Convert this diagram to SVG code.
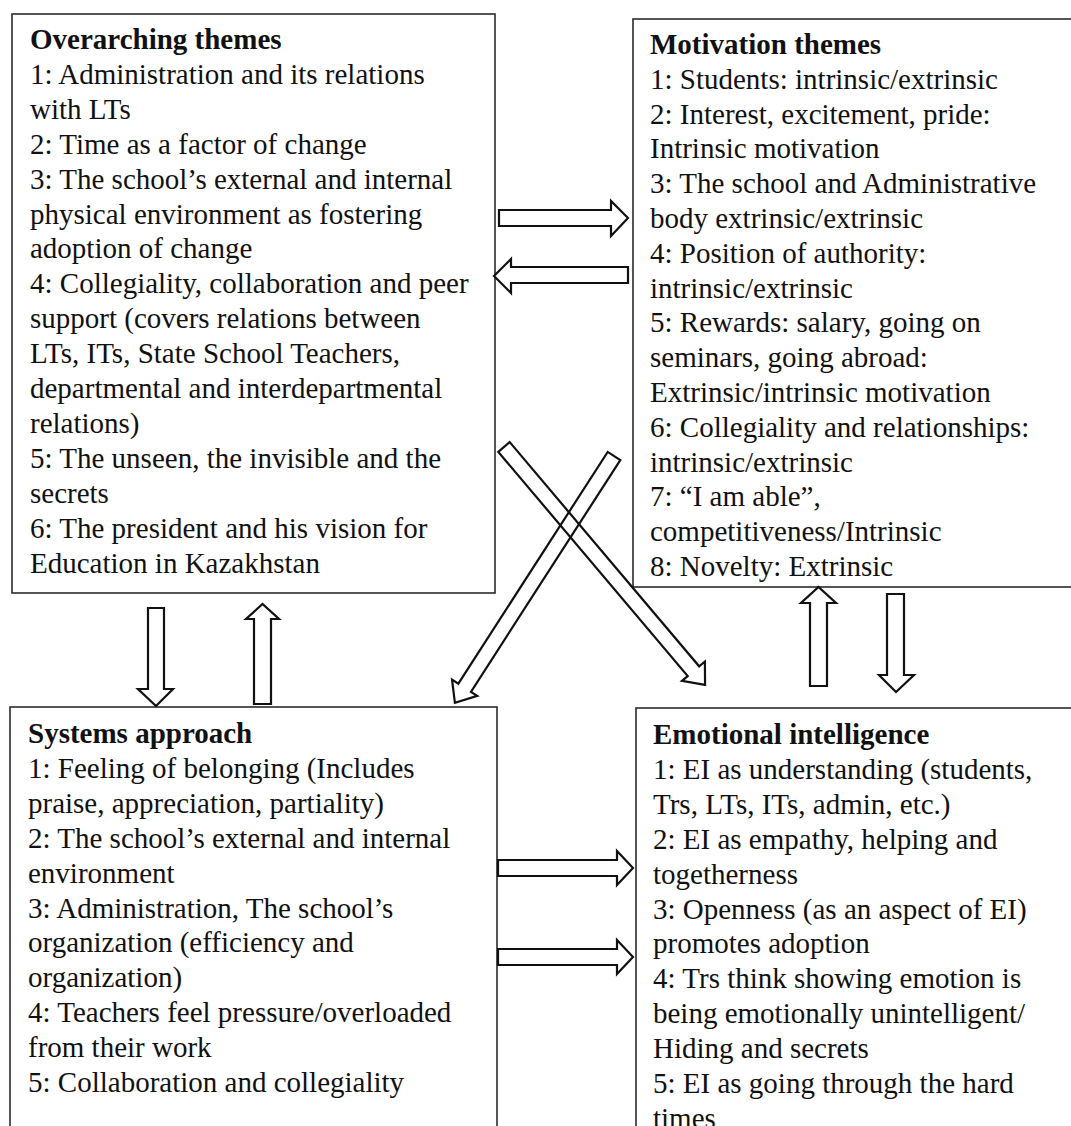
<svg xmlns="http://www.w3.org/2000/svg" width="1071" height="1126" viewBox="0 0 1071 1126">
  <style>
    .box { fill: #ffffff; stroke: #2b2b2b; stroke-width: 1.6; }
    .txt { font-family: "Liberation Serif", "Times New Roman", serif; font-size: 29px; fill: #111111; }
    .ttl { font-weight: bold; }
    .arrow { fill: #ffffff; stroke: #111111; stroke-width: 2.2; stroke-linejoin: miter; }
    .cross { fill: none; stroke: #111111; stroke-width: 2.2; stroke-linejoin: miter; }
  </style>
  <rect width="1071" height="1126" fill="#ffffff"/>

  <!-- Overarching themes -->
  <g id="overarching">
    <rect class="box" x="12" y="14" width="483" height="579"/>
    <text class="txt" x="30">
      <tspan class="ttl" x="30" y="49">Overarching themes</tspan>
      <tspan x="30" y="84">1: Administration and its relations</tspan>
      <tspan x="30" y="118.8">with LTs</tspan>
      <tspan x="30" y="153.7">2: Time as a factor of change</tspan>
      <tspan x="30" y="188.6">3: The school’s external and internal</tspan>
      <tspan x="30" y="223.5">physical environment as fostering</tspan>
      <tspan x="30" y="258.4">adoption of change</tspan>
      <tspan x="30" y="293.3">4: Collegiality,  collaboration and peer</tspan>
      <tspan x="30" y="328.2">support (covers relations between</tspan>
      <tspan x="30" y="363.1">LTs, ITs, State School Teachers,</tspan>
      <tspan x="30" y="398">departmental and interdepartmental</tspan>
      <tspan x="30" y="432.9">relations)</tspan>
      <tspan x="30" y="467.8">5: The unseen, the invisible and the</tspan>
      <tspan x="30" y="502.7">secrets</tspan>
      <tspan x="30" y="537.6">6: The president and his vision for</tspan>
      <tspan x="30" y="572.5">Education in Kazakhstan</tspan>
    </text>
  </g>

  <!-- Motivation themes -->
  <g id="motivation">
    <rect class="box" x="633" y="19" width="460" height="568"/>
    <text class="txt" x="650">
      <tspan class="ttl" x="650" y="54">Motivation themes</tspan>
      <tspan x="650" y="88.8">1: Students: intrinsic/extrinsic</tspan>
      <tspan x="650" y="123.6">2: Interest, excitement, pride:</tspan>
      <tspan x="650" y="158.4">Intrinsic motivation</tspan>
      <tspan x="650" y="193.2">3: The school and Administrative</tspan>
      <tspan x="650" y="228">body extrinsic/extrinsic</tspan>
      <tspan x="650" y="262.8">4: Position of authority:</tspan>
      <tspan x="650" y="297.6">intrinsic/extrinsic</tspan>
      <tspan x="650" y="332.4">5: Rewards: salary, going on</tspan>
      <tspan x="650" y="367.2">seminars, going abroad:</tspan>
      <tspan x="650" y="402">Extrinsic/intrinsic  motivation</tspan>
      <tspan x="650" y="436.8">6: Collegiality  and relationships:</tspan>
      <tspan x="650" y="471.6">intrinsic/extrinsic</tspan>
      <tspan x="650" y="506.4">7: “I am able”,</tspan>
      <tspan x="650" y="541.2">competitiveness/Intrinsic</tspan>
      <tspan x="650" y="576">8: Novelty: Extrinsic</tspan>
    </text>
  </g>

  <!-- Systems approach -->
  <g id="systems">
    <rect class="box" x="10" y="707" width="487" height="440"/>
    <text class="txt" x="28">
      <tspan class="ttl" x="28" y="743">Systems approach</tspan>
      <tspan x="28" y="777.9">1: Feeling of belonging (Includes</tspan>
      <tspan x="28" y="812.8">praise, appreciation, partiality)</tspan>
      <tspan x="28" y="847.7">2: The school’s external and internal</tspan>
      <tspan x="28" y="882.6">environment</tspan>
      <tspan x="28" y="917.5">3: Administration, The school’s</tspan>
      <tspan x="28" y="952.4">organization (efficiency and</tspan>
      <tspan x="28" y="987.3">organization)</tspan>
      <tspan x="28" y="1022.2">4: Teachers feel pressure/overloaded</tspan>
      <tspan x="28" y="1057.1">from their work</tspan>
      <tspan x="28" y="1092">5: Collaboration and collegiality</tspan>
    </text>
  </g>

  <!-- Emotional intelligence -->
  <g id="emotional">
    <rect class="box" x="636" y="708" width="460" height="440"/>
    <text class="txt" x="653">
      <tspan class="ttl" x="653" y="744">Emotional intelligence</tspan>
      <tspan x="653" y="778.9">1: EI as understanding (students,</tspan>
      <tspan x="653" y="813.8">Trs, LTs, ITs, admin, etc.)</tspan>
      <tspan x="653" y="848.7">2: EI as empathy, helping and</tspan>
      <tspan x="653" y="883.6">togetherness</tspan>
      <tspan x="653" y="918.5">3: Openness (as an aspect of EI)</tspan>
      <tspan x="653" y="953.4">promotes adoption</tspan>
      <tspan x="653" y="988.3">4: Trs think showing emotion is</tspan>
      <tspan x="653" y="1023.2">being emotionally unintelligent/</tspan>
      <tspan x="653" y="1058.1">Hiding and secrets</tspan>
      <tspan x="653" y="1093">5: EI as going through the hard</tspan>
      <tspan x="653" y="1127.9">times</tspan>
    </text>
  </g>

  <!-- Block arrows between the theme boxes -->
  <g id="connectors">
    <!-- overarching <-> motivation -->
    <polygon class="arrow" points="499,210 611,210 611,201 628,218 611,236 611,226 499,226"/>
    <polygon class="arrow" points="628,267 511,267 511,259 494,276 511,293 511,283 628,283"/>
    <!-- overarching <-> systems -->
    <polygon class="arrow" points="148,608 164,608 164,689 173,689 156,706 138,689 148,689"/>
    <polygon class="arrow" points="254,704 254,619 246,619 262.5,604 279,619 271,619 271,704"/>
    <!-- motivation <-> emotional -->
    <polygon class="arrow" points="810,686 810,603 801,603 818.5,587 836,603 827,603 827,686"/>
    <polygon class="arrow" points="887,594 904,594 904,675 914,675 896,692 879,675 887,675"/>
    <!-- systems -> emotional -->
    <polygon class="arrow" points="498,860 617,860 617,851 633,868 617,885 617,876 498,876"/>
    <polygon class="arrow" points="498,949 617,949 617,940 633,957 617,974 617,965 498,965"/>
    <!-- crossing diagonals -->
    <polygon class="cross" transform="translate(504,447) rotate(49.8)" points="0,-7.5 293.5,-7.5 293.5,-15 311.5,0 293.5,15 293.5,7.5 0,7.5"/>
    <polygon class="cross" transform="translate(614,456) rotate(122.8)" points="0,-7.5 275.7,-7.5 275.7,-15 293.7,0 275.7,15 275.7,7.5 0,7.5"/>
  </g>
</svg>
